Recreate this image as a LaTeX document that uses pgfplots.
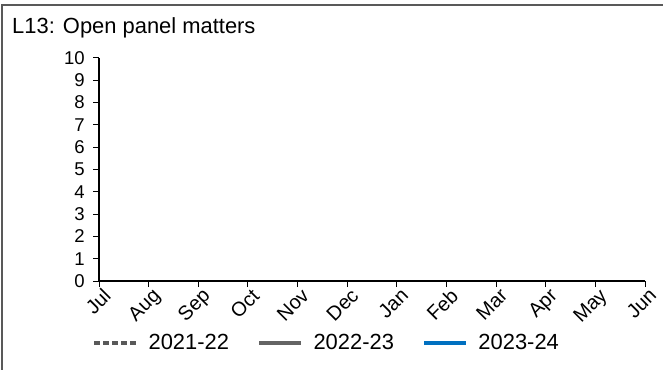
\documentclass[border=0pt]{standalone}
\usepackage{fontspec}
\setmainfont{Liberation Sans}
\usepackage{pgfplots}
\pgfplotsset{compat=1.18}
\definecolor{dgray}{RGB}{89,89,89}
\definecolor{lgray}{RGB}{100,100,100}
\definecolor{lblue}{RGB}{0,112,192}
\begin{document}
\begin{tikzpicture}[x=1bp,y=1bp]
\path[use as bounding box] (0,0) rectangle (663,369);
\fill[white] (0,0) rectangle (663,369);
\draw[line width=2bp, color=dgray] (2,-5) -- (2,364) -- (670,364);
\node[anchor=base west, inner sep=0, font=\fontsize{22}{22}\selectfont] at (12,336) {L13: Open panel matters};
\begin{axis}[at={(99bp,88bp)}, anchor=south west, scale only axis,
  width=546bp, height=223bp,
  xmin=0, xmax=11, ymin=0, ymax=10,
  axis lines*=left,
  axis line style={black, line width=1.3bp},
  xtick={0,...,11},
  xticklabels={Jul,Aug,Sep,Oct,Nov,Dec,Jan,Feb,Mar,Apr,May,Jun},
  ytick={0,...,10},
  tick align=outside, major tick length=6bp,
  tick style={black, line width=1bp},
  /pgf/number format/assume math mode=true,
  ticklabel style={font=\fontsize{18.6}{18.6}\selectfont},
  yticklabel style={inner sep=1bp, xshift=-7bp},
  xticklabel style={rotate=45, anchor=north east, inner sep=1bp,
    font=\fontsize{20}{20}\selectfont, xshift=3bp, yshift=-1bp},
  legend columns=3,
  legend style={draw=none, fill=none, at={(0.4167,-0.278)}, anchor=center,
    font=\fontsize{22}{22}\selectfont,
    /tikz/every even column/.append style={column sep=26bp},
    /tikz/every odd column/.append style={column sep=8bp},
    nodes={inner sep=2bp}},
  legend image code/.code={\draw[#1] (0bp,0bp) -- (42bp,0bp);},
]
\addlegendimage{dgray, line width=4.5bp, dash pattern=on 6bp off 3bp}
\addlegendentry{2021-22}
\addlegendimage{lgray, line width=4.5bp}
\addlegendentry{2022-23}
\addlegendimage{lblue, line width=4.5bp}
\addlegendentry{2023-24}
\end{axis}
\end{tikzpicture}
\end{document}
